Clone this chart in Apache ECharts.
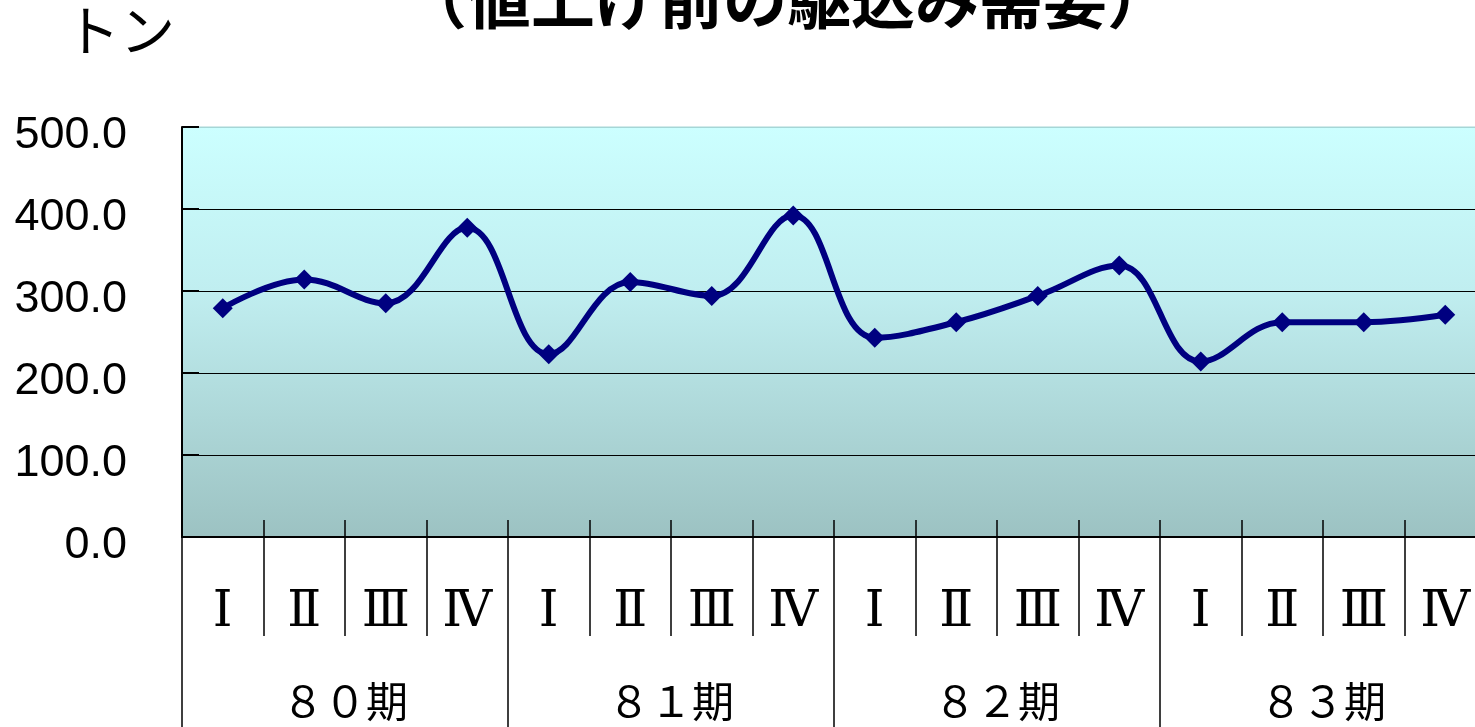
<!DOCTYPE html>
<html>
<head>
<meta charset="utf-8">
<script src="https://cdn.jsdelivr.net/npm/echarts@6/dist/echarts.min.js"></script>
<style>
  html, body { margin: 0; padding: 0; background: #fff; overflow: hidden; }
  /* the plot runs a little past the right edge of the window, as in the original */
  #chart { width: 1486px; height: 727px; }
</style>
</head>
<body>
<div id="chart"></div>
<script>
// quarters inside each term, and the terms below them
const quarters = ['Ⅰ', 'Ⅱ', 'Ⅲ', 'Ⅳ', 'Ⅰ', 'Ⅱ', 'Ⅲ', 'Ⅳ', 'Ⅰ', 'Ⅱ', 'Ⅲ', 'Ⅳ', 'Ⅰ', 'Ⅱ', 'Ⅲ', 'Ⅳ']
const terms = ['８０期', '８１期', '８２期', '８３期']
// demand in tons
const tons = [279, 314, 285, 377, 223, 311, 294, 392, 243, 262, 294, 331, 214, 262, 262, 271]

const jp = '"Noto Sans CJK JP", sans-serif'
const chart = echarts.init(document.getElementById('chart'))

chart.setOption({
  animation: false,
  title: [
    {
      text: '（値上げ前の駆込み需要）',
      left: 398,
      top: -38,
      textStyle: { fontSize: 64, fontWeight: 'bold', color: '#000', fontFamily: jp },
    },
    {
      text: 'トン',
      left: 60,
      top: -2,
      textStyle: { fontSize: 55, fontWeight: 'normal', color: '#000', fontFamily: jp },
    },
  ],
  grid: {
    left: 182,
    right: 0,
    top: 127,
    bottom: 190,
    show: true,
    borderColor: '#a6d6d6',
    borderWidth: 1,
    backgroundColor: {
      type: 'linear', x: 0, y: 0, x2: 0, y2: 1,
      colorStops: [
        { offset: 0, color: '#ccffff' },
        { offset: 0.4, color: '#c0eef0' },
        { offset: 1, color: '#9cc2c2' },
      ],
    },
  },
  xAxis: [
    {
      type: 'category',
      data: quarters,
      position: 'bottom',
      boundaryGap: true,
      axisLine: { lineStyle: { color: '#000', width: 2 } },
      axisTick: { show: true, inside: false, length: 99, interval: 0, lineStyle: { color: '#000', width: 1.5 } },
      axisLabel: {
        interval: 0,
        margin: 51,
        fontSize: 50,
        color: '#000',
        fontFamily: '"DejaVu Serif", "Noto Sans CJK JP", serif',
      },
    },
    {
      type: 'category',
      data: quarters,
      position: 'bottom',
      axisLine: { show: false },
      axisTick: { show: true, inside: true, length: 17, interval: 0, lineStyle: { color: '#000', width: 1.5 } },
      axisLabel: { show: false },
    },
    {
      type: 'category',
      data: terms,
      position: 'bottom',
      axisLine: { show: false },
      axisTick: { show: true, inside: false, length: 190, interval: 0, lineStyle: { color: '#000', width: 1.5 } },
      axisLabel: { interval: 0, margin: 143, fontSize: 42, color: '#000', fontFamily: jp },
    },
  ],
  yAxis: {
    type: 'value',
    min: 0,
    max: 500,
    interval: 100,
    axisLine: { show: true, lineStyle: { color: '#000', width: 2 } },
    axisTick: { show: true, inside: true, length: 17, lineStyle: { color: '#000', width: 2 } },
    axisLabel: {
      margin: 55,
      color: '#000',
      formatter: (v) => '{v|' + v.toFixed(1) + '}',
      rich: {
        v: {
          fontSize: 45,
          color: '#000',
          fontFamily: '"Liberation Sans", Arial, sans-serif',
          padding: [18, 0, 0, 0],
        },
      },
    },
    splitLine: {
      show: true,
      lineStyle: { color: ['#000', '#000', '#000', '#000', '#000', '#a6d6d6'], width: 1 },
    },
  },
  series: [
    {
      type: 'line',
      xAxisIndex: 0,
      data: tons,
      smooth: 0.4,
      symbol: 'diamond',
      symbolSize: 20,
      itemStyle: { color: '#000080' },
      lineStyle: { color: '#000080', width: 6 },
    },
  ],
})
</script>
</body>
</html>
